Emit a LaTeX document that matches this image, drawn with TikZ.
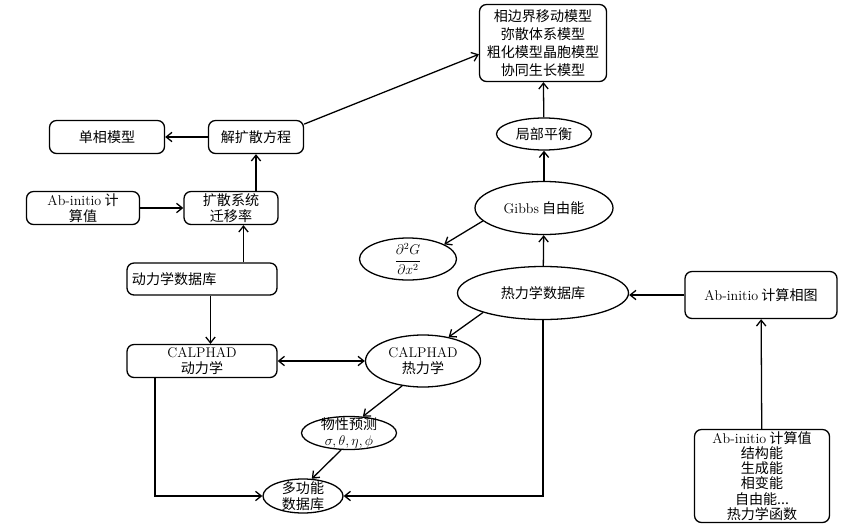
\documentclass[tikz,border=0pt]{standalone}
\usepackage{amsmath}
\usepackage{fontspec}
\newfontfamily\zh{Noto Sans CJK SC}
\newcommand{\eng}[1]{{\rmfamily #1}}
\usetikzlibrary{shapes.geometric,arrows.meta,positioning}

\begin{document}
\begin{tikzpicture}[
  x=0.03cm, y=-0.03cm,
  line width=1.1pt,
  box/.style={draw, rounded corners=6pt, inner sep=1pt, align=center, font=\large\zh},
  oval/.style={ellipse, draw, inner xsep=0pt, inner ysep=-4pt, align=center, font=\large\zh},
  >={Straight Barb[length=5pt,width=8pt]}
]
  \useasboundingbox (0,0) rectangle (863,530);

  % Models and equilibrium
  \node[box, minimum width=3.81cm, minimum height=2.31cm, font=\fontsize{12}{15.5}\selectfont\zh] (models) at (543,43) {相边界移动模型\\弥散体系模型\\粗化模型晶胞模型\\协同生长模型};
  \node[oval, minimum width=2.85cm, minimum height=0.96cm] (local) at (544,134) {局部平衡};
  \node[oval, minimum width=4.14cm, minimum height=1.59cm] (gibbs) at (544,208) {\eng{Gibbs} 自由能};
  \node[oval, minimum width=2.91cm, minimum height=1.26cm, font=\large] (deriv) at (408,259) {$\displaystyle\frac{\partial^2G}{\partial x^2}$};
  \node[oval, minimum width=5.13cm, minimum height=1.59cm] (thermodb) at (543,293) {热力学数据库};
  \node[box, minimum width=4.56cm, minimum height=1.41cm] (abphase) at (761,295) {\eng{Ab-initio} 计算相图};
  \node[box, minimum width=4.05cm, minimum height=2.79cm, font=\fontsize{12}{13}\selectfont\zh] (abvalue) at (762,476) {\eng{Ab-initio} 计算值\\结构能\\生成能\\相变能\\自由能...\\热力学函数};

  % Diffusion side
  \node[box, minimum width=3.45cm, minimum height=0.99cm] (single) at (107,137) {单相模型};
  \node[box, minimum width=2.85cm, minimum height=0.99cm] (solve) at (256,137) {解扩散方程};
  \node[box, minimum width=3.39cm, minimum height=0.99cm] (abcalc) at (83,208) {\eng{Ab-initio} 计\\算值};
  \node[box, minimum width=2.82cm, minimum height=0.99cm] (mobility) at (231,208) {扩散系统\\迁移率};
  \node[box, minimum width=4.5cm, minimum height=0.96cm, text width=4.2cm, align=left] (kinedb) at (202,279) {动力学数据库};
  \node[box, minimum width=4.5cm, minimum height=0.99cm] (calkin) at (202,361) {\eng{CALPHAD}\\动力学};
  \node[oval, minimum width=3.45cm, minimum height=1.56cm] (calthermo) at (423,361) {\eng{CALPHAD}\\热力学};
  \node[oval, minimum width=2.85cm, minimum height=0.99cm] (predict) at (349,433) {物性预测\\$\sigma,\theta,\eta,\phi$};
  \node[oval, minimum width=2.4cm, minimum height=1.02cm] (multidb) at (303,496) {多功能\\数据库};

  % Connections
  \draw[->] (solve.15) -- (models.190);
  \draw[->] (solve) -- (single);
  \draw[->] (mobility.north -| solve.south) -- (solve.south);
  \draw[->] (abcalc) -- (mobility);
  \draw[->] (kinedb.north -| mobility.-54) -- (mobility.-54);
  \draw[->] (kinedb.-63) -- (kinedb.-63 |- calkin.north);
  \draw[<->] (calkin) -- (calthermo);
  \draw[->] (calkin.200) |- (multidb);
  \draw[->] (thermodb.south) |- (multidb);
  \draw[->] (calthermo.-130) -- (predict.50);
  \draw[->] (predict.-115) -- (multidb.63);
  \draw[->] (thermodb.-162) -- (calthermo.43);
  \draw[->] (thermodb) -- (gibbs);
  \draw[->] (gibbs.-168) -- (deriv.22);
  \draw[->] (gibbs) -- (local);
  \draw[->] (local) -- (models);
  \draw[->] (abphase.west) -- (abphase.west -| thermodb.east);
  \draw[->] (abvalue) -- (abphase);

\end{tikzpicture}
\end{document}
